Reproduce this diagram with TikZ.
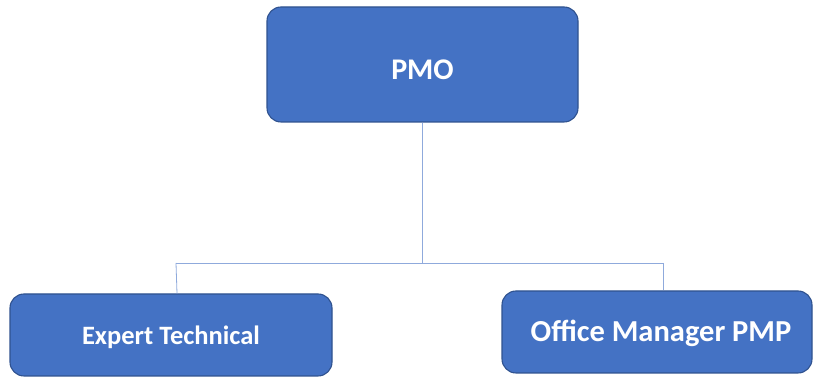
\documentclass[tikz,border=0pt]{standalone}
\usepackage{fontspec}
\setmainfont{Carlito}
\definecolor{boxfill}{HTML}{4472C4}
\definecolor{boxline}{HTML}{2F528F}
\definecolor{linkline}{RGB}{143,170,220}
\begin{document}
\begin{tikzpicture}[x=1pt,y=1pt,
  orgbox/.style={draw=boxline, line width=1.1pt, fill=boxfill, rounded corners=14pt,
    inner sep=0pt},
  orgtext/.style={text=white, inner sep=0pt},
  link/.style={draw=linkline, line width=0.8pt}]
  \useasboundingbox (0,0) rectangle (814,379);
  % boxes
  \node[orgbox, minimum width=311, minimum height=115] (pmo) at (422.5,314.5) {};
  \node[orgbox, minimum width=322, minimum height=82] (exp) at (171,44) {};
  \node[orgbox, minimum width=310, minimum height=82] (off) at (657,47) {};
  % labels
  \node[orgtext, font=\bfseries\fontsize{30}{34}\selectfont] (pmot) at ([yshift=-5]pmo.center) {PMO};
  \node[orgtext, font=\bfseries\fontsize{26.5}{30}\selectfont] (expt) at ([yshift=-2]exp.center) {Expert Technical};
  \node[orgtext, font=\bfseries\fontsize{30.5}{34}\selectfont] (offt) at ([xshift=4,yshift=-1.5]off.center) {Office Manager PMP};
  % connectors
  \coordinate (hub) at (422,116);
  \coordinate (hl) at (176,116);
  \coordinate (hr) at (663,116);
  \draw[link] (pmo.south -| hub) -- (hub);
  \draw[link] (hl) -- (hr);
  \draw[link] (hl) -- (177,85 |- exp.north);
  \draw[link] (hr) -- (hr |- off.north);
\end{tikzpicture}
\end{document}
